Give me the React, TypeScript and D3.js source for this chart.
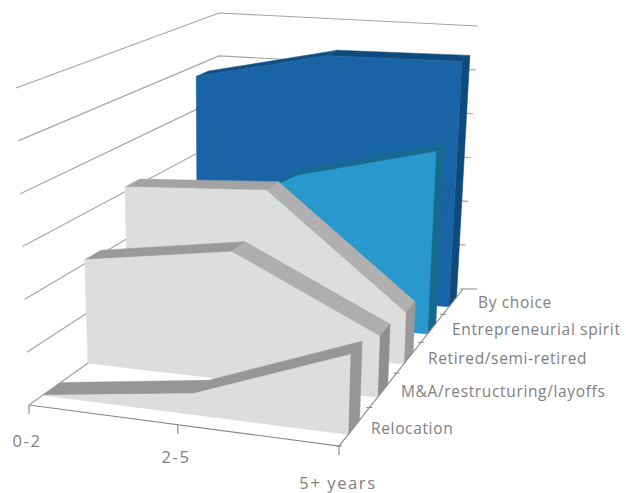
import React from "react";
import * as d3 from "d3";

const categories = ["0-2", "2-5", "5+ years"];
const seriesNames = ["Relocation", "M&A/restructuring/layoffs", "Retired/semi-retired", "Entrepreneurial spirit", "By choice"];
const relocation = [0, 4, 15];
const mergers = [20.8, 25.5, 12];
const retired = [31, 33, 10.5];
const entrepreneurial = [16, 31.5, 39];
const byChoice = [47.5, 54, 54.5];
const seriesValues = [relocation, mergers, retired, entrepreneurial, byChoice];
const valueTicks = [0, 10, 20, 30, 40, 50, 60];

const frontFill = ["#dcdddd", "#dcdddd", "#dcdddd", "#2898cd", "#1864a6"];
const topFill = [["#969696", "#969696"], ["#9a9a9a", "#aeaeae"], ["#a3a3a3", "#b0b0b0"], ["#17698f", "#17698f"], ["#124f86", "#0f4a7c"]];
const sideFill = ["#969696", "#8f8f8f", "#9a9a9a", "#17698f", "#0f4a7c"];

// Cube corners on screen: [floor, ceiling] for each of the four verticals.
type P = [number, number];
const frontLeft: [P, P] = [[29, 405], [16, 88]];
const frontRight: [P, P] = [[339, 446], [348, 121]];
const backLeft: [P, P] = [[219, 270], [219, 13]];
const backRight: [P, P] = [[463, 289], [478, 26]];

const uScale = d3.scaleOrdinal<string, number>().domain(categories).range([0, 0.495, 1]);
const uTicks = d3.scaleOrdinal<string, number>().domain(categories).range([0, 0.48, 1]);
const band = d3.scaleBand<string>().domain(seriesNames).range([-0.005, 0.995]).paddingInner(0.62).paddingOuter(0.31);
const wScale = d3.scaleLinear().domain([0, 60]).range([0, 1]);
const foreshorten = (v: number) => (1.3 * v) / (1 + 0.3 * v);

const mix = (a: P, b: P, k: number): P => [a[0] + (b[0] - a[0]) * k, a[1] + (b[1] - a[1]) * k];
function project(u: number, v: number, value: number): P {
  const t = foreshorten(v);
  const w = wScale(value);
  const near = mix(mix(frontLeft[0], frontRight[0], u), mix(frontLeft[1], frontRight[1], u), w);
  const far = mix(mix(backLeft[0], backRight[0], u), mix(backLeft[1], backRight[1], u), w);
  return mix(near, far, t);
}

const path = d3.line<P>();
const closed = (pts: P[]) => path(pts) + "Z";
const textColor = "#808080";
const fontFamily = "'Open Sans', sans-serif";

// Label anchors are placed in screen space next to the axes they annotate.
const categoryLabels: [string, number, number][] = [["0-2", 27, 443], ["2-5", 176, 459], ["5+ years", 338, 485]];
const seriesLabels: [string, number, number][] = [
  ["Relocation", 371, 430],
  ["M&A/restructuring/layoffs", 401, 393],
  ["Retired/semi-retired", 428, 360],
  ["Entrepreneurial spirit", 452, 331],
  ["By choice", 478, 304],
];

export default function App() {
  const order = d3.range(seriesNames.length).reverse();
  return (
    <svg width={626} height={493} style={{ position: "absolute", left: 0, top: 0, background: "#fff" }}>
      {valueTicks.slice(1).map((t) => (
        <path key={t} d={path([project(0, 0, t), project(0, 1, t), project(1, 1, t)]) ?? ""} fill="none" stroke="#a6a6a6" strokeWidth={1.2} />
      ))}
      <path d={path([project(0, 0, 0), project(0, 1, 0)]) ?? ""} fill="none" stroke="#a0a0a0" strokeWidth={1.2} />
      {order.map((i) => {
        const name = seriesNames[i];
        const v0 = band(name) as number;
        const v1 = v0 + band.bandwidth();
        const us = categories.map((c) => uScale(c));
        const vals = seriesValues[i];
        const frontTop = us.map((u, k) => project(u, v0, vals[k]));
        const backTop = us.map((u, k) => project(u, v1, vals[k]));
        const front = [...frontTop, project(1, v0, 0), project(0, v0, 0)];
        const side = [frontTop[2], backTop[2], project(1, v1, 0), project(1, v0, 0)];
        return (
          <g key={name}>
            {[0, 1].map((k) => (
              <path key={k} d={closed([frontTop[k], frontTop[k + 1], backTop[k + 1], backTop[k]])} fill={topFill[i][k]} stroke={topFill[i][k]} strokeWidth={0.5} />
            ))}
            <path d={closed(side)} fill={sideFill[i]} stroke={sideFill[i]} strokeWidth={0.5} />
            <path d={closed(front)} fill={frontFill[i]} stroke={frontFill[i]} strokeWidth={0.5} />
          </g>
        );
      })}
      <path d={path([project(0, 0, 0), project(1, 0, 0), project(1, 1, 0)]) ?? ""} fill="none" stroke="#8a8a8a" strokeWidth={1.2} />
      {categories.map((c) => {
        const [x, y] = project(uTicks(c), 0, 0);
        return <line key={c} x1={x} x2={x} y1={y} y2={y + 9} stroke="#8a8a8a" strokeWidth={1.2} />;
      })}
      {d3.range(0, 6).map((k) => {
        const [x, y] = project(1, k / 5, 0);
        return <line key={k} x1={x - 3} x2={x + (k === 5 ? 14 : 3)} y1={y} y2={y} stroke="#8a8a8a" strokeWidth={1} />;
      })}
      {categoryLabels.map(([s, x, y]) => (
        <text key={s} x={x} y={y} textAnchor="middle" dominantBaseline="middle" fontFamily={fontFamily} fontSize={16.5} letterSpacing={1.6} fill={textColor}>{s}</text>
      ))}
      {seriesLabels.map(([s, x, y]) => (
        <text key={s} x={x} y={y} dominantBaseline="middle" fontFamily={fontFamily} fontSize={15.5} letterSpacing={0.65} fill={textColor}>{s}</text>
      ))}
    </svg>
  );
}
